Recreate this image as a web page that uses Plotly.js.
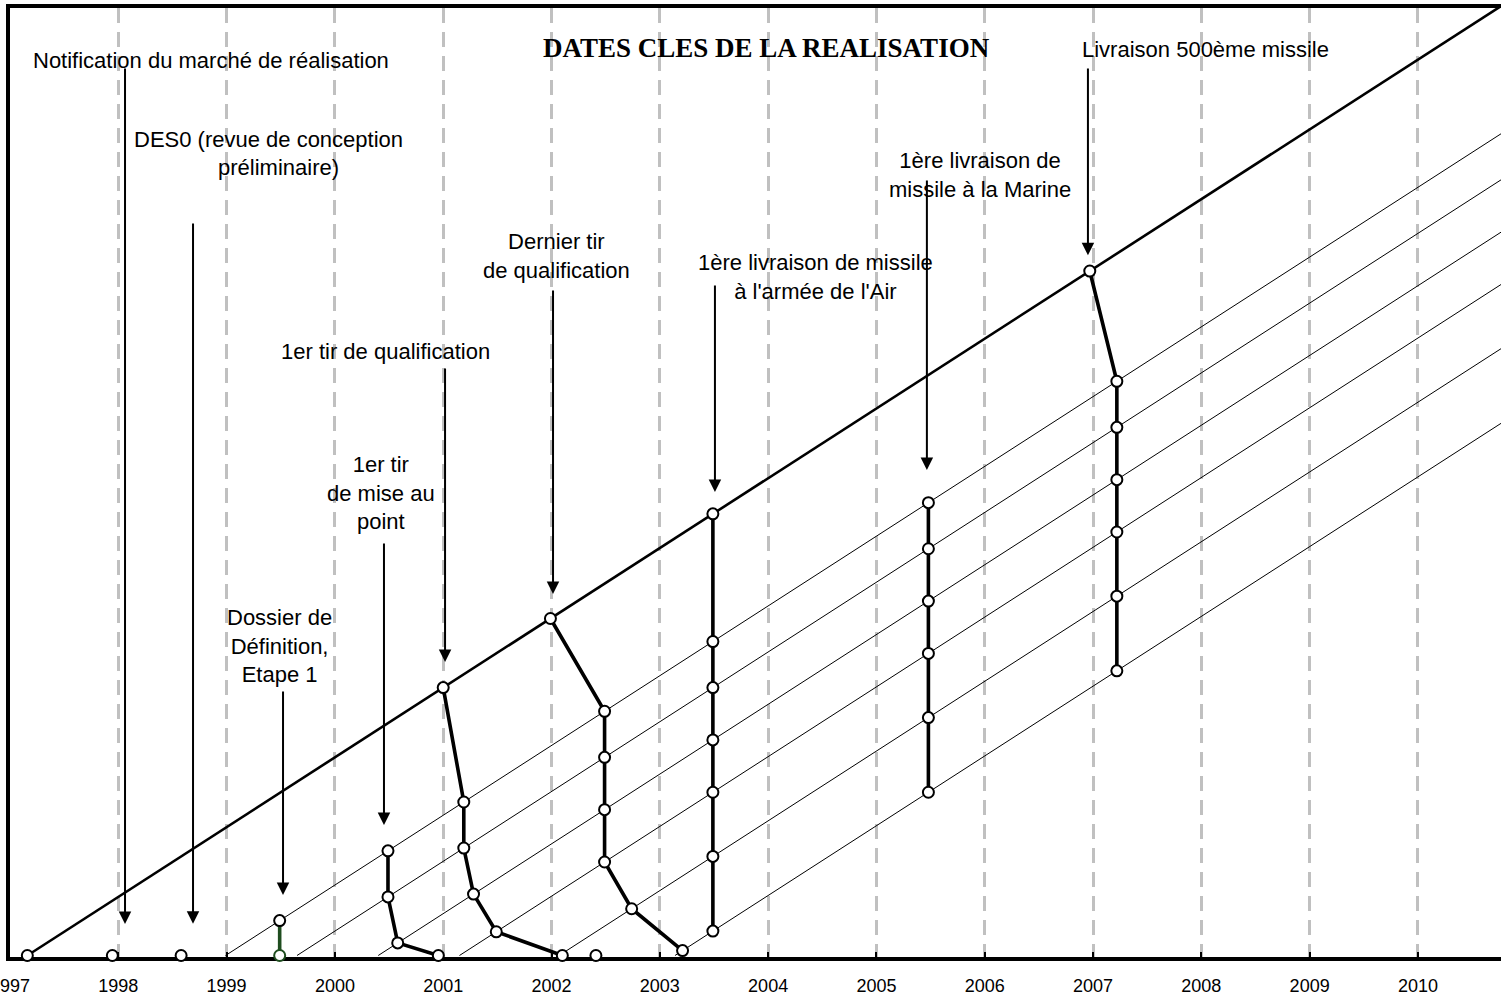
<!DOCTYPE html>
<html>
<head>
<meta charset="utf-8">
<script src="https://cdn.plot.ly/plotly-3.0.1.min.js"></script>
<style>
html,body{margin:0;padding:0;background:#fff;}
#chart{width:1501px;height:995px;}
</style>
</head>
<body>
<div id="chart"></div>
<script>
// ---- DATA ----
const years = [1997, 1998, 1999, 2000, 2001, 2002, 2003, 2004, 2005, 2006, 2007, 2008, 2009, 2010];
const yearLabels = ['1997', '1998', '1999', '2000', '2001', '2002', '2003', '2004', '2005', '2006', '2007', '2008', '2009', '2010'];

// dates of the successive reviews (each one is a diagonal line)
const reportDates = [1997.16, 1998.99, 1999.65, 2000.40, 2001.15, 2002.07, 2003.14];

// forecast date of each milestone at each review (null = not shown)
const fcMiseAuPoint = [null, 2000.49, 2000.49, 2000.58, null, null, null];
const fcQualif      = [2001.00, 2001.19, 2001.19, 2001.28, 2001.49, null, null];
const fcDernier     = [2001.99, 2002.49, 2002.49, 2002.49, 2002.49, 2002.74, 2003.21];
const fcAir         = [2003.49, 2003.49, 2003.49, 2003.49, 2003.49, 2003.49, 2003.49];
const fcMarine      = [null, 2005.48, 2005.48, 2005.48, 2005.48, 2005.48, 2005.48];
const fc500         = [2006.97, 2007.22, 2007.22, 2007.22, 2007.22, 2007.22, 2007.22];
const fcDossier     = [null, 1999.49, null, null, null, null, null];

// actual dates (milestone reached)
const doneMiseAuPoint = 2000.955;
const doneQualif = 2002.10;
const doneDossier = 1999.49;
const doneOther = [1997.16, 1997.945, 1998.58, 2002.41];

// labels
const labelTexts = [
  'Notification du marché de réalisation',
  'DES0 (revue de conception',
  'préliminaire)',
  'Dossier de<br>Définition,<br>Etape 1',
  '1er tir<br>de mise au<br>point',
  '1er tir de qualification',
  'Dernier tir<br>de qualification',
  '1ère livraison de missile<br>à l\'armée de l\'Air',
  '1ère livraison de<br>missile à la Marine',
  'Livraison 500ème missile'
];
const chartTitle = 'DATES CLES DE LA REALISATION';

// ---- LAYOUT HELPERS (positions in data units) ----
const labelPos = [
  [1998.856, 12.828], [1999.383, 11.69], [1999.48, 11.29], [1999.484, 4.429], [2000.426, 6.622], [2000.463, 8.657],
  [2002.042, 10.026], [2004.433, 9.718], [2005.957, 11.187], [2008.034, 12.986]
];
// arrows: [x, tail y, tip y]
const arrowPos = [
  [1998.062, 12.735, 0.451], [1998.690, 10.513, 0.456], [1999.521, 3.805, 0.867],
  [2000.453, 5.927, 1.870], [2001.017, 8.436, 4.207], [2002.014, 9.553, 5.181],
  [2003.509, 9.625, 6.644], [2005.466, 11.130, 6.959], [2006.953, 12.735, 10.038]
];

const FONT = 'Liberation Sans, Arial, sans-serif';
const traces = [];

// review lines
reportDates.forEach((r, i) => {
  traces.push({
    type: 'scatter', mode: 'lines',
    x: [r, r + 20], y: [0, 20],
    line: {color: '#000', width: i === 0 ? 2.6 : 1},
    hoverinfo: 'skip', showlegend: false
  });
});

function chain(fc, done, color, lineColor) {
  const xs = [], ys = [], mc = [];
  fc.forEach((f, i) => {
    if (f !== null) { xs.push(f); ys.push(f - reportDates[i]); mc.push('#000'); }
  });
  if (done !== null) { xs.push(done); ys.push(0); mc.push(color || '#000'); }
  return {
    type: 'scatter', mode: 'lines+markers', x: xs, y: ys, cliponaxis: false,
    line: {color: lineColor || '#000', width: 3.6},
    marker: {symbol: 'circle', size: 11, color: '#fff', line: {color: mc, width: 2}},
    hoverinfo: 'skip', showlegend: false
  };
}
traces.push(chain(fcMiseAuPoint, doneMiseAuPoint));
traces.push(chain(fcQualif, doneQualif));
traces.push(chain(fcDernier, null));
traces.push(chain(fcAir, null));
traces.push(chain(fcMarine, null));
traces.push(chain(fc500, null));
traces.push(chain(fcDossier, doneDossier, '#1f4d1f', '#1f4d1f'));
traces.push({
  type: 'scatter', mode: 'markers', x: doneOther, y: doneOther.map(() => 0), cliponaxis: false,
  marker: {symbol: 'circle', size: 11, color: '#fff', line: {color: '#000', width: 2}},
  hoverinfo: 'skip', showlegend: false
});

const annotations = [];
arrowPos.forEach(a => {
  annotations.push({
    x: a[0], y: a[2], ax: a[0], ay: a[1], xref: 'x', yref: 'y', axref: 'x', ayref: 'y',
    text: '', showarrow: true, arrowhead: 2, arrowsize: 1.25, arrowwidth: 2, arrowcolor: '#000', standoff: 0
  });
});
labelTexts.forEach((t, i) => {
  annotations.push({
    x: labelPos[i][0], y: labelPos[i][1], xref: 'x', yref: 'y', text: t, showarrow: false,
    xanchor: 'center', yanchor: 'middle', align: 'center',
    font: {family: FONT, size: 22, color: '#000'}
  });
});
annotations.push({
  x: 2003.981, y: 13.0, xref: 'x', yref: 'y', text: '<b>' + chartTitle + '</b>', showarrow: false,
  xanchor: 'center', yanchor: 'middle',
  font: {family: 'Liberation Serif, Times New Roman, serif', size: 27, color: '#000'}
});

const layout = {
  width: 1501, height: 995,
  margin: {l: 10, r: 0, t: 8, b: 38, pad: 0},
  paper_bgcolor: '#fff', plot_bgcolor: '#fff',
  showlegend: false,
  xaxis: {
    range: [1997, 2010.767], tickmode: 'array', tickvals: years, ticktext: yearLabels,
    showline: true, linecolor: '#000', linewidth: 4, mirror: true, layer: 'below traces',
    ticks: 'inside', ticklen: 5, tickwidth: 2, tickcolor: '#000',
    showgrid: true, gridcolor: '#c0c0c0', gridwidth: 3, griddash: '15px,9px',
    zeroline: false, tickfont: {family: FONT, size: 18, color: '#000'},
    ticklabeloverflow: 'allow', ticklabelstandoff: 9
  },
  yaxis: {
    range: [-0.0215, 13.58], showline: true, linecolor: '#000', linewidth: 4, layer: 'below traces',
    showticklabels: false, ticks: '', showgrid: false, zeroline: false
  },
  annotations: annotations
};

Plotly.newPlot('chart', traces, layout, {staticPlot: true, displayModeBar: false});
</script>
</body>
</html>
